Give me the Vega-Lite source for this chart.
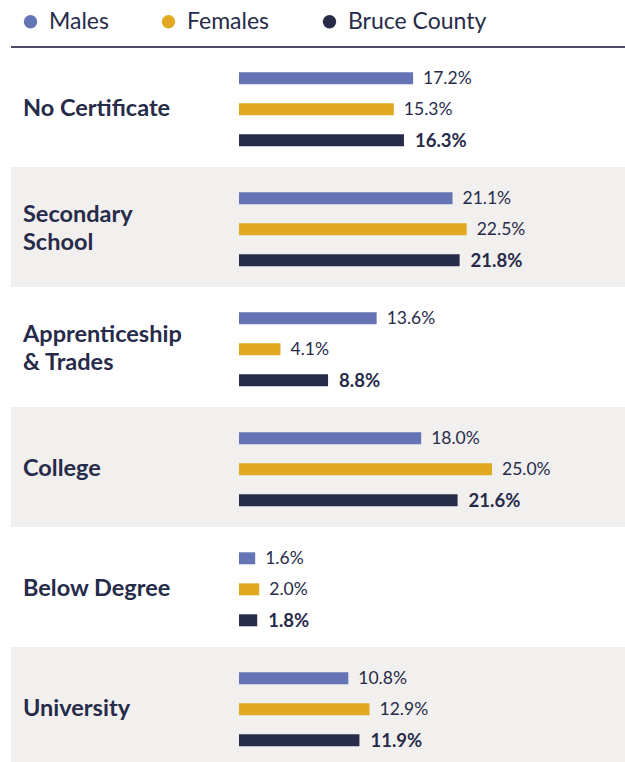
{
  "$schema": "https://vega.github.io/schema/vega-lite/v6.json",
  "width": 625,
  "height": 720,
  "autosize": {"type": "none"},
  "padding": {"top": 47, "left": 0, "right": 0, "bottom": 0},
  "background": "white",
  "config": {"view": {"stroke": null}, "font": "Lato"},
  "datasets": {
    "cats": [
      {"category": "No Certificate", "label": "No Certificate"},
      {"category": "Secondary School", "label": "Secondary\nSchool"},
      {"category": "Apprenticeship & Trades", "label": "Apprenticeship\n& Trades"},
      {"category": "College", "label": "College"},
      {"category": "Below Degree", "label": "Below Degree"},
      {"category": "University", "label": "University"}
    ],
    "bars": [
      {"category": "No Certificate", "series": "Males", "value": 0.172},
      {"category": "No Certificate", "series": "Females", "value": 0.153},
      {"category": "No Certificate", "series": "Bruce County", "value": 0.163},
      {"category": "Secondary School", "series": "Males", "value": 0.211},
      {"category": "Secondary School", "series": "Females", "value": 0.225},
      {"category": "Secondary School", "series": "Bruce County", "value": 0.218},
      {"category": "Apprenticeship & Trades", "series": "Males", "value": 0.136},
      {"category": "Apprenticeship & Trades", "series": "Females", "value": 0.041},
      {"category": "Apprenticeship & Trades", "series": "Bruce County", "value": 0.088},
      {"category": "College", "series": "Males", "value": 0.180},
      {"category": "College", "series": "Females", "value": 0.250},
      {"category": "College", "series": "Bruce County", "value": 0.216},
      {"category": "Below Degree", "series": "Males", "value": 0.016},
      {"category": "Below Degree", "series": "Females", "value": 0.020},
      {"category": "Below Degree", "series": "Bruce County", "value": 0.018},
      {"category": "University", "series": "Males", "value": 0.108},
      {"category": "University", "series": "Females", "value": 0.129},
      {"category": "University", "series": "Bruce County", "value": 0.119}
    ]
  },
  "layer": [
    {
      "data": {"name": "cats"},
      "transform": [{"filter": {"field": "category", "oneOf": ["Secondary School", "College", "University"]}}],
      "mark": {"type": "rect", "color": "#F1F0EE"},
      "encoding": {
        "x": {"datum": -0.2253, "type": "quantitative", "scale": {"domain": [-0.23617, 0.38142], "nice": false, "zero": false}, "axis": null},
        "x2": {"datum": 0.38142},
        "y": {"field": "category", "type": "nominal", "sort": null, "scale": {"domain": ["No Certificate", "Secondary School", "Apprenticeship & Trades", "College", "Below Degree", "University"], "paddingInner": 0, "paddingOuter": 0}, "axis": null}
      }
    },
    {
      "data": {"name": "cats"},
      "transform": [{"filter": {"field": "category", "equal": "No Certificate"}}],
      "mark": {"type": "rule", "color": "#4A4C6A", "strokeWidth": 2},
      "encoding": {
        "x": {"datum": -0.2253, "type": "quantitative"},
        "x2": {"datum": 0.38142},
        "y": {"field": "category", "type": "nominal", "bandPosition": 0}
      }
    },
    {
      "data": {"name": "cats"},
      "transform": [{"filter": {"field": "category", "oneOf": ["No Certificate", "College", "Below Degree", "University"]}}],
      "mark": {"type": "text", "align": "left", "baseline": "middle", "dy": 2, "fontSize": 23.5, "fontWeight": "bold", "color": "#272B4A"},
      "encoding": {
        "x": {"datum": -0.21344, "type": "quantitative"},
        "y": {"field": "category", "type": "nominal"},
        "text": {"field": "label"}
      }
    },
    {
      "data": {"name": "cats"},
      "transform": [{"filter": {"field": "category", "oneOf": ["Secondary School", "Apprenticeship & Trades"]}}],
      "mark": {"type": "text", "align": "left", "baseline": "middle", "dy": -12, "fontSize": 23.5, "fontWeight": "bold", "color": "#272B4A", "lineBreak": "\n", "lineHeight": 28},
      "encoding": {
        "x": {"datum": -0.21344, "type": "quantitative"},
        "y": {"field": "category", "type": "nominal"},
        "text": {"field": "label"}
      }
    },
    {
      "data": {"name": "bars"},
      "mark": {"type": "bar"},
      "encoding": {
        "x": {"field": "value", "type": "quantitative"},
        "y": {"field": "category", "type": "nominal"},
        "yOffset": {"field": "series", "type": "nominal", "sort": ["Males", "Females", "Bruce County"], "scale": {"paddingInner": 0.613, "paddingOuter": 0.742, "align": 0.55}},
        "color": {
          "field": "series", "type": "nominal",
          "scale": {"domain": ["Males", "Females", "Bruce County"], "range": ["#6474B4", "#E1A921", "#282C4B"]},
          "legend": {"orient": "none", "legendX": 19, "legendY": -37, "direction": "horizontal", "title": null, "symbolType": "circle", "symbolSize": 180, "symbolStrokeWidth": 0, "symbolOpacity": 1, "labelFontSize": 23, "labelColor": "#272B4A", "labelFont": "Lato", "labelOffset": 7, "columnPadding": 48, "padding": 0}
        }
      }
    },
    {
      "data": {"name": "bars"},
      "transform": [{"filter": {"field": "series", "oneOf": ["Males", "Females"]}}],
      "mark": {"type": "text", "align": "left", "baseline": "middle", "dx": 10, "dy": 1, "fontSize": 17.5, "color": "#272B4A"},
      "encoding": {
        "x": {"field": "value", "type": "quantitative"},
        "y": {"field": "category", "type": "nominal"},
        "yOffset": {"field": "series", "type": "nominal", "sort": ["Males", "Females", "Bruce County"]},
        "text": {"field": "value", "type": "quantitative", "format": ".1%"}
      }
    },
    {
      "data": {"name": "bars"},
      "transform": [{"filter": {"field": "series", "equal": "Bruce County"}}],
      "mark": {"type": "text", "align": "left", "baseline": "middle", "dx": 11, "dy": 1, "fontSize": 18.5, "fontWeight": "bold", "color": "#272B4A"},
      "encoding": {
        "x": {"field": "value", "type": "quantitative"},
        "y": {"field": "category", "type": "nominal"},
        "yOffset": {"field": "series", "type": "nominal", "sort": ["Males", "Females", "Bruce County"]},
        "text": {"field": "value", "type": "quantitative", "format": ".1%"}
      }
    }
  ]
}
